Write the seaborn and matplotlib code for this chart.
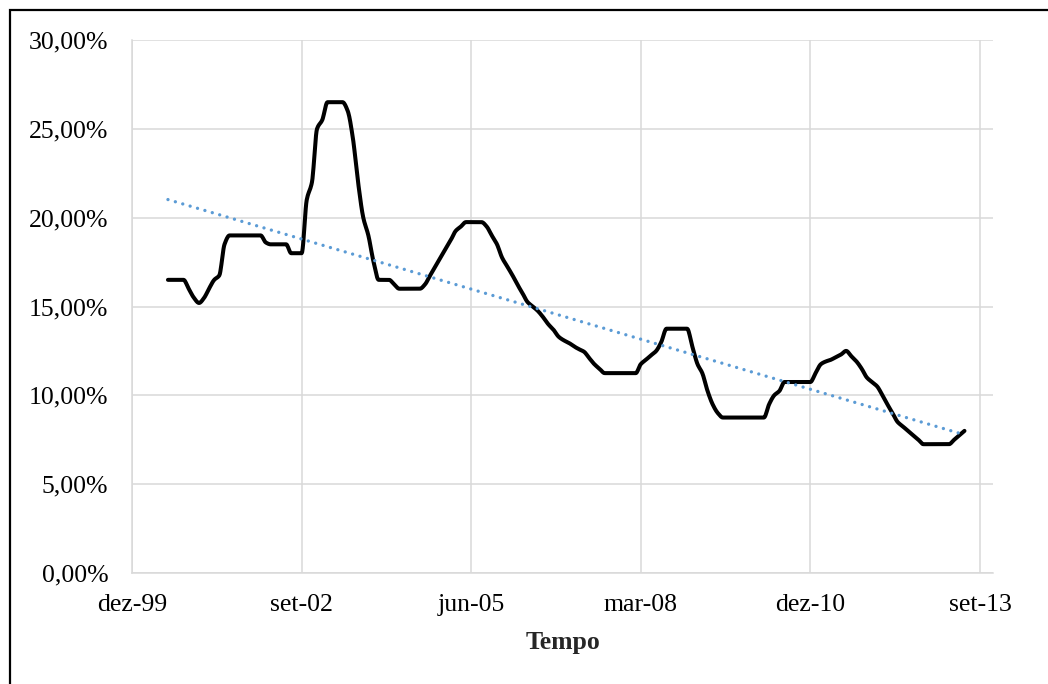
import numpy as np
import pandas as pd
import matplotlib
matplotlib.use("Agg")
import matplotlib.pyplot as plt
import matplotlib.dates as mdates
from matplotlib.patches import Rectangle
from matplotlib.ticker import FuncFormatter
import seaborn as sns

# Monthly rate (%), Jul/2000 - Jun/2013
start_month = "2000-07-01"
taxa = [
    16.5, 16.5, 16.5, 16.5, 16.0, 15.5, 15.2, 15.5, 16.0, 16.5, 16.75, 18.5,    # 2000-07 .. 2001-06
    19.0, 19.0, 19.0, 19.0, 19.0, 19.0, 19.0, 18.6, 18.5, 18.5, 18.5, 18.5,     # 2001-07 .. 2002-06
    18.0, 18.0, 18.0, 21.0, 22.0, 25.0, 25.5, 26.5, 26.5, 26.5, 26.5, 26.0,     # 2002-07 .. 2003-06
    24.5, 22.0, 20.0, 19.0, 17.5, 16.5, 16.5, 16.5, 16.25, 16.0, 16.0, 16.0,    # 2003-07 .. 2004-06
    16.0, 16.0, 16.25, 16.75, 17.25, 17.75, 18.25, 18.75, 19.25, 19.5, 19.75, 19.75,  # 2004-07 .. 2005-06
    19.75, 19.75, 19.5, 19.0, 18.5, 17.75, 17.25, 16.75, 16.25, 15.75, 15.25, 15.0,   # 2005-07 .. 2006-06
    14.75, 14.4, 14.0, 13.7, 13.3, 13.1, 12.95, 12.75, 12.6, 12.45, 12.1, 11.75,      # 2006-07 .. 2007-06
    11.5, 11.25, 11.25, 11.25, 11.25, 11.25, 11.25, 11.25, 11.75, 12.0, 12.25, 12.5,  # 2007-07 .. 2008-06
    13.0, 13.75, 13.75, 13.75, 13.75, 13.75, 12.75, 11.75, 11.25, 10.25, 9.5, 9.0,    # 2008-07 .. 2009-06
    8.75, 8.75, 8.75, 8.75, 8.75, 8.75, 8.75, 8.75, 8.75, 9.5, 10.0, 10.25,           # 2009-07 .. 2010-06
    10.75, 10.75, 10.75, 10.75, 10.75, 10.75, 11.25, 11.75, 11.9, 12.0, 12.15, 12.3,  # 2010-07 .. 2011-06
    12.5, 12.2, 11.9, 11.5, 11.0, 10.75, 10.5, 10.0, 9.5, 9.0, 8.5, 8.25,             # 2011-07 .. 2012-06
    8.0, 7.75, 7.5, 7.25, 7.25, 7.25, 7.25, 7.25, 7.25, 7.5, 7.75, 8.0,               # 2012-07 .. 2013-06
]

tick_dates = ["1999-12-01", "2002-09-01", "2005-06-01", "2008-03-01", "2010-12-01", "2013-09-01"]
tick_labels = ["dez-99", "set-02", "jun-05", "mar-08", "dez-10", "set-13"]
y_ticks = [0, 5, 10, 15, 20, 25, 30]

datas = pd.date_range(start_month, periods=len(taxa), freq="MS")
xnum = mdates.date2num(datas)
yval = np.asarray(taxa, dtype=float)


def suavizar(x, y, n=10):
    """Monotone cubic (Fritsch-Carlson) curve through every point."""
    h = np.diff(x)
    d = np.diff(y) / h
    m = np.zeros_like(y)
    m[0], m[-1] = d[0], d[-1]
    for k in range(1, len(y) - 1):
        if d[k - 1] * d[k] > 0:
            w1 = 2 * h[k] + h[k - 1]
            w2 = h[k] + 2 * h[k - 1]
            m[k] = (w1 + w2) / (w1 / d[k - 1] + w2 / d[k])
    xs, ys = [], []
    t = np.linspace(0, 1, n, endpoint=False)
    for k in range(len(h)):
        h00 = 2 * t ** 3 - 3 * t ** 2 + 1
        h10 = t ** 3 - 2 * t ** 2 + t
        h01 = -2 * t ** 3 + 3 * t ** 2
        h11 = t ** 3 - t ** 2
        xs.append(x[k] + t * h[k])
        ys.append(h00 * y[k] + h10 * h[k] * m[k] + h01 * y[k + 1] + h11 * h[k] * m[k + 1])
    xs.append([x[-1]])
    ys.append([y[-1]])
    return np.concatenate(xs), np.concatenate(ys)


sx, sy = suavizar(xnum, yval)
curva = pd.DataFrame({"Tempo": mdates.num2date(sx), "Taxa": sy})

# Linear trend over the series
coef = np.polyfit(xnum, yval, 1)
tendencia = pd.DataFrame({"Tempo": datas, "Tendencia": np.polyval(coef, xnum)})

sns.set_theme(style="white")
plt.rcParams["font.family"] = ["Liberation Serif", "DejaVu Serif"]

fig = plt.figure(figsize=(10.48, 6.84), dpi=100)
ax = fig.add_axes([132 / 1048, 1 - 573 / 684, (993 - 132) / 1048, (573 - 40) / 684])

grid_col = "#D9D9D9"
ax.set_axisbelow(True)
ax.grid(True, color=grid_col, linewidth=1.1)
for s in ["top", "right"]:
    ax.spines[s].set_visible(False)
for s in ["left", "bottom"]:
    ax.spines[s].set_color(grid_col)
    ax.spines[s].set_linewidth(1.1)

sns.lineplot(data=curva, x="Tempo", y="Taxa", ax=ax, color="black", linewidth=2.9,
             solid_joinstyle="round", solid_capstyle="round", sort=False)
sns.lineplot(data=tendencia, x="Tempo", y="Tendencia", ax=ax, color="#5B9BD5", linewidth=2.4,
             linestyle=(0, (0.01, 2.3)), dash_capstyle="round")

ax.set_xlim(pd.Timestamp("1999-12-01"), pd.Timestamp("2013-11-17"))
ax.set_ylim(0, 30)
ax.set_xticks(pd.to_datetime(tick_dates))
ax.set_xticklabels(tick_labels)
ax.set_yticks(y_ticks)
ax.yaxis.set_major_formatter(FuncFormatter(lambda v, p: f"{v:.2f}%".replace(".", ",")))
ax.tick_params(axis="both", length=0, labelsize=18.5, colors="black")
ax.tick_params(axis="y", pad=17)
ax.tick_params(axis="x", pad=15)
ax.set_ylabel("")
ax.set_xlabel("Tempo", fontsize=18.5, fontweight="bold", labelpad=11)

# Outer chart frame
fig.patches.append(Rectangle((10 / 1048, -0.1), 1.2, 1 - 10 / 684 + 0.1, transform=fig.transFigure,
                             fill=False, edgecolor="black", linewidth=1.6))

fig.savefig("out.png", dpi=100)
